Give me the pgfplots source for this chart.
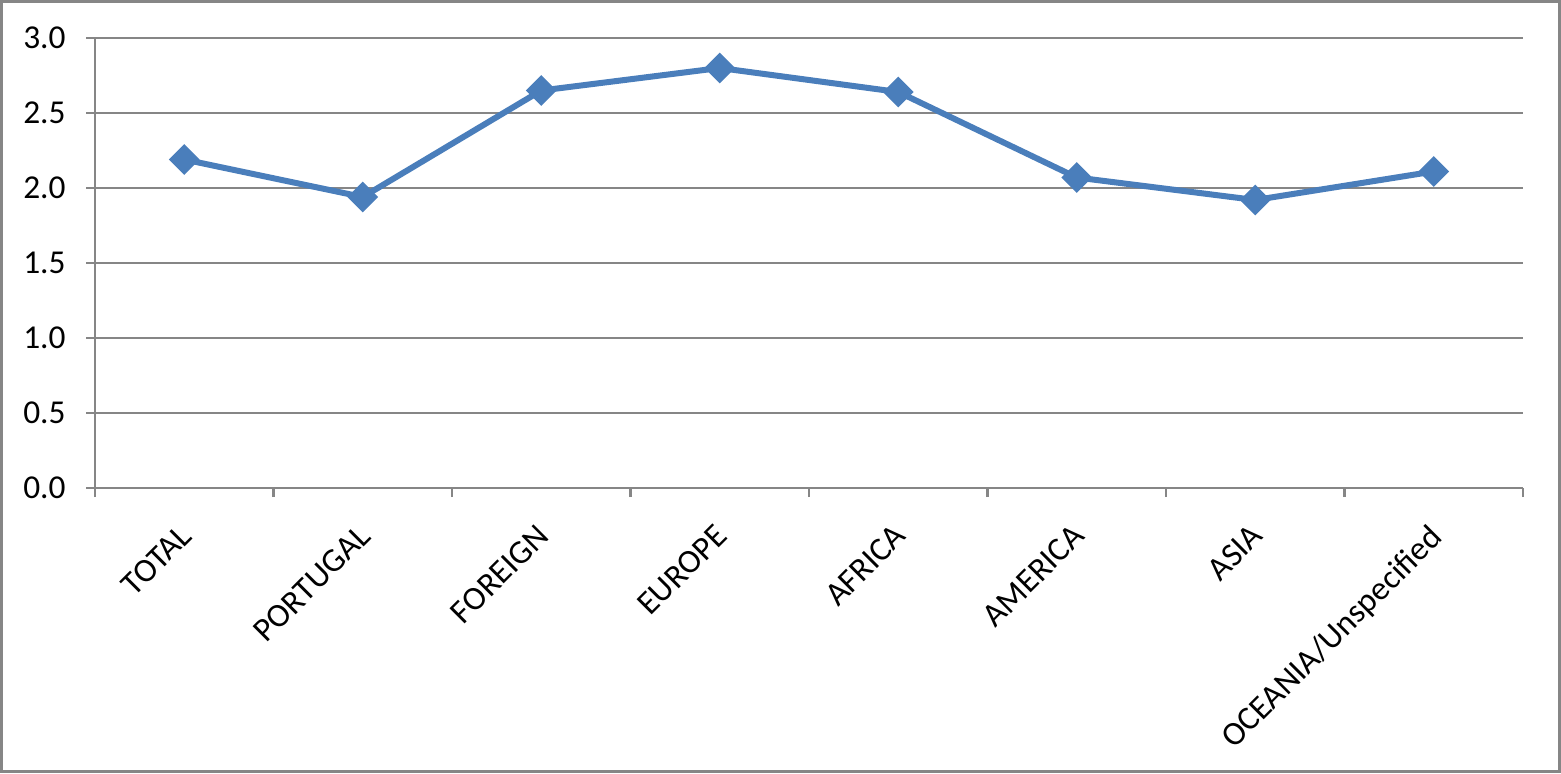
\documentclass[border=0pt]{standalone}
\usepackage{pgfplots}
\pgfplotsset{compat=1.18}
\usepackage{fontspec}
\setmainfont{Carlito}
\definecolor{xlblue}{RGB}{74,126,187}
\definecolor{xlgrid}{RGB}{134,134,134}
\definecolor{xlframe}{RGB}{134,134,134}
\begin{document}
\begin{tikzpicture}
 \tikzstyle{every node}=[font=\fontsize{9.5}{12}\selectfont]
% chart frame
\draw[xlframe, line width=0.3mm] (0.15mm,0.15mm) rectangle (155.95mm,77.15mm);
\begin{axis}[
    at={(9.5mm,28.5mm)}, anchor=south west,
    scale only axis,
    width=142.8mm, height=45mm,
    xmin=0.5, xmax=8.5,
    ymin=0, ymax=3,
    axis lines*=left,
    axis line style={xlgrid, line width=0.25mm},
    xtick={0.5,1.5,...,8.5},
    x tick label as interval,
    xticklabels={TOTAL,PORTUGAL,FOREIGN,EUROPE,AFRICA,AMERICA,ASIA,OCEANIA/Unspecified},
    xticklabel style={xshift=-0.6mm, yshift=-2.5mm, rotate=45, anchor=north east, inner sep=0pt},
    ytick={0,0.5,...,3},
    /pgf/number format/fixed,
    /pgf/number format/fixed zerofill,
    /pgf/number format/precision=1,
    /pgf/number format/assume math mode=true,
    yticklabel style={xshift=-0.8mm},
    tick align=outside,
    major tick length=0.9mm,
    tick style={xlgrid, line width=0.25mm},
    ymajorgrids=true,
    grid style={xlgrid, line width=0.25mm},
    clip=false,
]
\addplot[xlblue, line width=0.6mm, mark=square*, mark size=0.78mm,
    mark options={rotate=45, solid, fill=xlblue}]
 coordinates {
    (1,2.19) (2,1.94) (3,2.65) (4,2.80) (5,2.64) (6,2.07) (7,1.92) (8,2.11)
};
\end{axis}
\end{tikzpicture}
\end{document}
